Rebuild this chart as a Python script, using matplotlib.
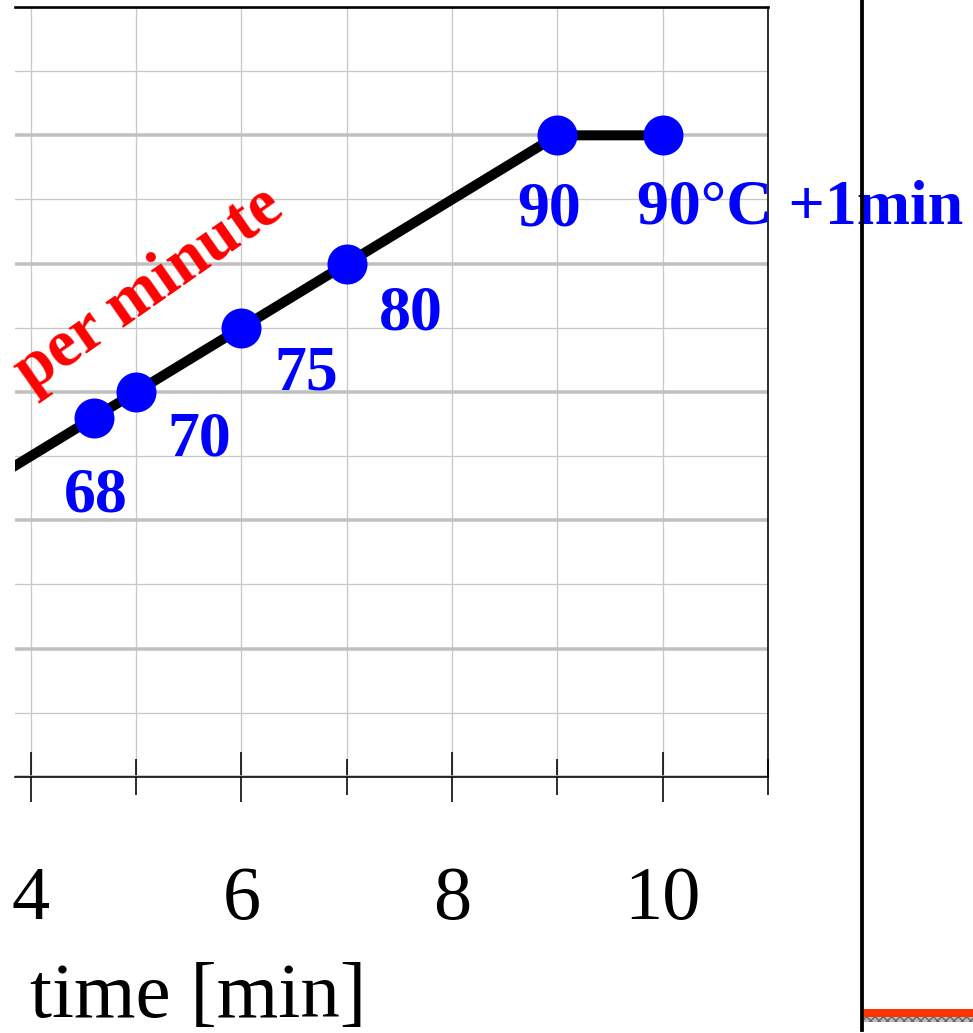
import numpy as np
import matplotlib
matplotlib.use("Agg")
import matplotlib.pyplot as plt
from matplotlib.ticker import MultipleLocator
from matplotlib.patches import Rectangle

plt.rcParams['font.family'] = ['Liberation Serif', 'DejaVu Serif']

# heating ramp: 5 degC per minute up to 90 degC, then hold
ramp_time = [3.0, 4.6, 5, 6, 7, 9, 10]
ramp_temp = [60, 68, 70, 75, 80, 90, 90]

# marked points and their labels
point_time = [4.6, 5, 6, 7, 9, 10]
point_temp = [68, 70, 75, 80, 90, 90]
point_text = ["68", "70", "75", "80", "90", "90°C +1min"]
# label offsets in pixels (dx, dy) and horizontal alignment
label_dx = [2, 63, 65, 64, -8, -26]
label_dy = [-94, -64, -62, -66, -90, -88]
label_ha = ["center", "center", "center", "center", "center", "left"]

W, H, DPI = 973, 1033, 100
px = 72.0 / DPI  # pixels -> points

fig = plt.figure(figsize=(W / DPI, H / DPI), dpi=DPI)
ax = fig.add_axes([15 / W, (H - 777) / H, (768 - 15) / W, (777 - 7) / H])

ax.set_xlim(3.85, 11.0)
ax.set_ylim(40, 100)

ax.xaxis.set_major_locator(MultipleLocator(2))
ax.xaxis.set_minor_locator(MultipleLocator(1))
ax.yaxis.set_major_locator(MultipleLocator(10))
ax.yaxis.set_minor_locator(MultipleLocator(5))

ax.grid(axis='x', which='both', color='#c8c8c8', lw=1.3 * px)
ax.grid(axis='y', which='major', color='#c0c0c0', lw=3.5 * px)
ax.grid(axis='y', which='minor', color='#c8c8c8', lw=1.3 * px)
ax.set_axisbelow(True)

ax.spines['left'].set_visible(False)
ax.spines['top'].set_linewidth(2.6 * px)
ax.spines['right'].set_linewidth(1.6 * px)
ax.spines['bottom'].set_linewidth(1.6 * px)

ax.tick_params(axis='x', which='major', direction='inout', length=50 * px,
               width=1.6 * px, labelsize=55, pad=46)
ax.tick_params(axis='x', which='minor', direction='inout', length=36 * px,
               width=1.6 * px)
ax.tick_params(axis='y', which='both', length=0, labelleft=False)

ax.plot(ramp_time, ramp_temp, color='black', lw=10 * px,
        solid_joinstyle='miter', zorder=3)
ax.plot(point_time, point_temp, 'o', color='#0000ff', ms=40 * px,
        mec='none', zorder=4)

for t, T, s, dx, dy, ha in zip(point_time, point_temp, point_text,
                               label_dx, label_dy, label_ha):
    ax.annotate(s, (t, T), xytext=(dx * px, dy * px), textcoords='offset points',
                ha=ha, va='baseline', color='#0000ff', fontsize=46,
                fontweight='bold', annotation_clip=False, zorder=5)

ax.text(5.12, 78.0, "per minute", color='#ff0000', fontsize=48,
        fontweight='bold', rotation=35, rotation_mode='anchor',
        ha='center', va='center', zorder=5)

fig.text(30 / W, (H - 1017) / H, "time [min]", fontsize=57,
         ha='left', va='baseline')

# neighbouring panel on the right
ax2 = fig.add_axes([862 / W, (H - 1030) / H, 0.5, 1030 / H])
ax2.set_xlim(0, 1)
ax2.set_ylim(0, 1030)
for side in ['top', 'right', 'bottom']:
    ax2.spines[side].set_visible(False)
ax2.spines['left'].set_linewidth(3.8 * px)
ax2.set_xticks([])
ax2.set_yticks([])
ax2.patch.set_alpha(0)
ax2.add_patch(Rectangle((0.004, 13), 1, 8, color='#ff3300', lw=0))
ax2.add_patch(Rectangle((0.004, 8), 1, 5, facecolor='#bbbbbb',
                        edgecolor='#666666', hatch='xxxx', lw=0))

fig.savefig("out.png", dpi=DPI)
